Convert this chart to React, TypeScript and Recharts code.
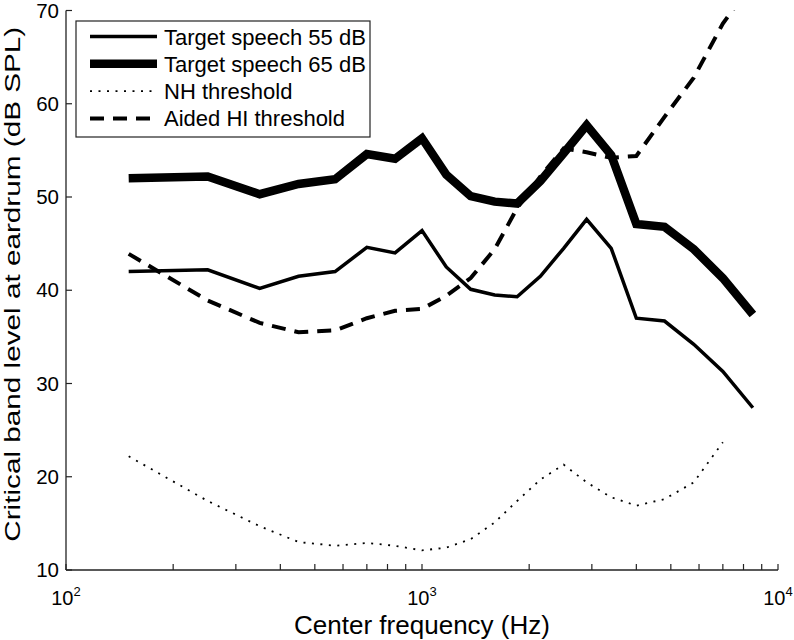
import React from 'react';
import { LineChart, Line, XAxis, YAxis, Legend } from 'recharts';

// critical band centre frequencies (Hz)
const freqs = [150, 250, 350, 450, 570, 700, 840, 1000, 1170, 1370, 1600, 1850, 2150, 2500, 2900, 3400, 4000, 4800, 5800, 7000, 8500];

// critical band levels at eardrum (dB SPL)
const speech55 = [42.0, 42.2, 40.2, 41.5, 42.0, 44.6, 44.0, 46.4, 42.5, 40.1, 39.5, 39.3, 41.5, 44.5, 47.6, 44.5, 37.0, 36.7, 34.2, 31.3, 27.4];
const speech65 = [52.0, 52.2, 50.3, 51.4, 51.9, 54.6, 54.1, 56.3, 52.4, 50.1, 49.5, 49.3, 51.7, 54.7, 57.7, 54.5, 47.1, 46.8, 44.4, 41.3, 37.4];
const nhThreshold = [22.2, 17.4, 14.7, 13.0, 12.6, 12.9, 12.6, 12.1, 12.4, 13.3, 15.1, 17.4, 19.7, 21.3, 19.4, 17.8, 16.9, 17.6, 19.4, 23.7, null];
const aidedHiThreshold = [43.9, 38.9, 36.5, 35.5, 35.7, 37.0, 37.8, 38.0, 39.4, 41.3, 44.4, 48.8, 52.2, 55.2, 54.8, 54.2, 54.4, 58.6, 62.8, 68.6, 73.0];

const seriesNames = ['Target speech 55 dB', 'Target speech 65 dB', 'NH threshold', 'Aided HI threshold'];

const xTicks = [100, 200, 300, 400, 500, 600, 700, 800, 900, 1000, 2000, 3000, 4000, 5000, 6000, 7000, 8000, 9000, 10000];
const xMajor = [100, 1000, 10000];
const yTicks = [10, 20, 30, 40, 50, 60, 70];

const data = freqs.map((f, i) => ({
  f,
  s55: speech55[i],
  s65: speech65[i],
  nh: nhThreshold[i],
  hi: aidedHiThreshold[i],
}));

const FONT = '"Liberation Sans", Arial, Helvetica, sans-serif';
const AXIS = '#222';
const TICK_LEN = 6;

// MATLAB style ticks: drawn inward, labels outside
const BottomTick = (props: any) => {
  const { x, y, payload } = props;
  const v = payload.value;
  return (
    <g>
      <line x1={x} x2={x} y1={y} y2={y - TICK_LEN} stroke={AXIS} strokeWidth={1.2} />
      {xMajor.includes(v) && (
        <text x={x} y={y + 34.5} textAnchor="middle" fontSize={20} fontFamily={FONT} fill="#000">
          <tspan>10</tspan>
          <tspan dy={-9} fontSize={13}>{Math.round(Math.log10(v))}</tspan>
        </text>
      )}
    </g>
  );
};

const TopTick = (props: any) => {
  const { x, y } = props;
  return <line x1={x} x2={x} y1={y} y2={y + TICK_LEN} stroke={AXIS} strokeWidth={1.2} />;
};

const LeftTick = (props: any) => {
  const { x, y, payload } = props;
  return (
    <g>
      <line x1={x} x2={x + TICK_LEN} y1={y} y2={y} stroke={AXIS} strokeWidth={1.2} />
      <text x={x - 7} y={y} dy={7.2} textAnchor="end" fontSize={20.5} fontFamily={FONT} fill="#000">
        {payload.value}
      </text>
    </g>
  );
};

const RightTick = (props: any) => {
  const { x, y } = props;
  return <line x1={x} x2={x - TICK_LEN} y1={y} y2={y} stroke={AXIS} strokeWidth={1.2} />;
};

const XTitle = (props: any) => {
  const { viewBox } = props;
  return (
    <text
      x={viewBox.x + viewBox.width / 2}
      y={viewBox.y + 64}
      textAnchor="middle"
      fontSize={26}
      textLength={256}
      lengthAdjust="spacingAndGlyphs"
      fontFamily={FONT}
      fill="#000"
    >
      Center frequency (Hz)
    </text>
  );
};

const YTitle = (props: any) => {
  const { viewBox } = props;
  const cx = 20;
  const cy = viewBox.y + viewBox.height / 2 - 6;
  return (
    <text
      x={cx}
      y={cy}
      textAnchor="middle"
      fontSize={22}
      textLength={515}
      lengthAdjust="spacingAndGlyphs"
      fontFamily={FONT}
      fill="#000"
      transform={`rotate(-90, ${cx}, ${cy})`}
    >
      Critical band level at eardrum (dB SPL)
    </text>
  );
};

const LegendBox = (props: any) => {
  const items = [...(props.payload || [])].sort(
    (a: any, b: any) => seriesNames.indexOf(a.value) - seriesNames.indexOf(b.value)
  );
  return (
    <svg width={296} height={118} style={{ display: 'block' }}>
      <rect x={1} y={1} width={294} height={116} fill="#fff" stroke={AXIS} strokeWidth={1.2} />
      {items.map((entry: any, i: number) => {
        const cy = 16.5 + i * 27.3;
        const p = entry.payload || {};
        return (
          <g key={i}>
            <line
              x1={15}
              x2={82}
              y1={cy}
              y2={cy}
              stroke="#000"
              strokeWidth={p.strokeWidth}
              strokeDasharray={p.strokeDasharray}
            />
            <text x={89} y={cy + 8} fontSize={22} fontFamily={FONT} fill="#000">
              {entry.value}
            </text>
          </g>
        );
      })}
    </svg>
  );
};

export default function App() {
  return (
    <div style={{ position: 'absolute', left: 0, top: 0, width: 794, height: 640, background: '#fff' }}>
      <LineChart width={794} height={640} data={data} margin={{ top: 10.5, right: 16, bottom: 0, left: 0 }}>
        <XAxis
          dataKey="f"
          type="number"
          scale="log"
          domain={[100, 10000]}
          ticks={xTicks}
          interval={0}
          tickSize={0}
          tickMargin={0}
          tickLine={false}
          tick={<BottomTick />}
          axisLine={{ stroke: AXIS, strokeWidth: 1.3 }}
          height={70}
          label={<XTitle />}
        />
        <XAxis
          xAxisId="top"
          orientation="top"
          dataKey="f"
          type="number"
          scale="log"
          domain={[100, 10000]}
          ticks={xTicks}
          interval={0}
          tickSize={0}
          tickMargin={0}
          tickLine={false}
          tick={<TopTick />}
          axisLine={{ stroke: AXIS, strokeWidth: 1.3 }}
          height={0}
        />
        <YAxis
          type="number"
          domain={[10, 70]}
          ticks={yTicks}
          interval={0}
          allowDataOverflow
          tickSize={0}
          tickMargin={0}
          tickLine={false}
          tick={<LeftTick />}
          axisLine={{ stroke: AXIS, strokeWidth: 1.3 }}
          width={66}
          label={<YTitle />}
        />
        <YAxis
          yAxisId="right"
          orientation="right"
          type="number"
          domain={[10, 70]}
          ticks={yTicks}
          interval={0}
          allowDataOverflow
          tickSize={0}
          tickMargin={0}
          tickLine={false}
          tick={<RightTick />}
          axisLine={{ stroke: AXIS, strokeWidth: 1.3 }}
          width={0}
        />
        <Legend
          layout="vertical"
          align="center"
          verticalAlign="middle"
          content={<LegendBox />}
          wrapperStyle={{ position: 'absolute', left: 75, top: 20, width: 296, height: 118 }}
        />
        <Line dataKey="s55" name={seriesNames[0]} type="linear" stroke="#000" strokeWidth={3.5} strokeLinejoin="miter" dot={false} isAnimationActive={false} />
        <Line dataKey="s65" name={seriesNames[1]} type="linear" stroke="#000" strokeWidth={8.5} strokeLinejoin="miter" dot={false} isAnimationActive={false} />
        <Line dataKey="nh" name={seriesNames[2]} type="linear" stroke="#000" strokeWidth={1.8} strokeDasharray="2 6.5" dot={false} isAnimationActive={false} />
        <Line dataKey="hi" name={seriesNames[3]} type="linear" stroke="#000" strokeWidth={4} strokeDasharray="14 9" dot={false} isAnimationActive={false} />
      </LineChart>
    </div>
  );
}
